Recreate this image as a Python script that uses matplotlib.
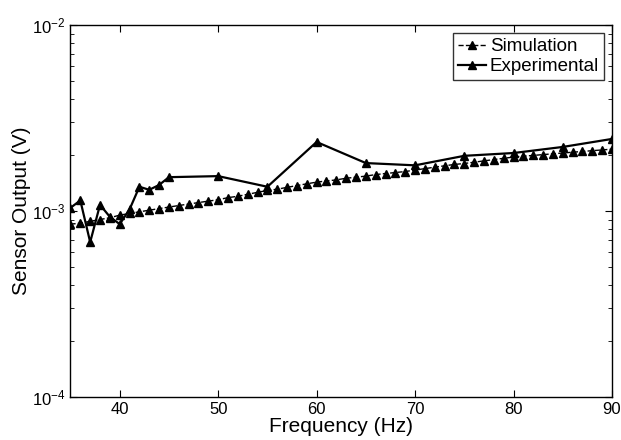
import numpy as np
import matplotlib
matplotlib.use("Agg")
import matplotlib.pyplot as plt
from matplotlib.ticker import LogLocator, NullFormatter

plt.rcParams['font.family'] = ['Liberation Sans', 'DejaVu Sans']
plt.rcParams['mathtext.default'] = 'regular'

# simulation: one point per Hz, 35..90 (values in volts)
sim_freq = list(range(35, 91))
sim_out = [0.85e-3, 0.86e-3, 0.88e-3, 0.90e-3, 0.92e-3, 0.95e-3, 0.97e-3, 0.99e-3, 1.01e-3, 1.03e-3,
           1.05e-3, 1.07e-3, 1.09e-3, 1.11e-3, 1.13e-3, 1.15e-3, 1.18e-3, 1.20e-3, 1.23e-3, 1.26e-3,
           1.29e-3, 1.31e-3, 1.34e-3, 1.37e-3, 1.40e-3, 1.43e-3, 1.45e-3, 1.47e-3, 1.50e-3, 1.52e-3,
           1.54e-3, 1.57e-3, 1.59e-3, 1.61e-3, 1.63e-3, 1.66e-3, 1.69e-3, 1.72e-3, 1.75e-3, 1.78e-3,
           1.80e-3, 1.83e-3, 1.86e-3, 1.89e-3, 1.92e-3, 1.95e-3, 1.97e-3, 1.99e-3, 2.01e-3, 2.03e-3,
           2.05e-3, 2.07e-3, 2.09e-3, 2.11e-3, 2.13e-3, 2.15e-3]

# experimental measurements
exp_freq = [35, 36, 37, 38, 39, 40, 41, 42, 43, 44, 45, 50, 55, 60, 65, 70, 75, 80, 85, 90]
exp_out = [1.04e-3, 1.14e-3, 0.68e-3, 1.08e-3, 0.93e-3, 0.85e-3, 1.02e-3, 1.35e-3, 1.30e-3, 1.38e-3,
           1.52e-3, 1.54e-3, 1.35e-3, 2.35e-3, 1.81e-3, 1.76e-3, 1.98e-3, 2.05e-3, 2.21e-3, 2.44e-3]

fig = plt.figure(figsize=(6.21, 4.40), dpi=100)
ax = fig.add_axes([0.1135, 0.0977, 0.872, 0.8455])

ax.semilogy(sim_freq, sim_out, "--", color="black", marker="^", markersize=5.5, linewidth=1, label="Simulation")
ax.semilogy(exp_freq, exp_out, "-", color="black", marker="^", markersize=5.5, linewidth=1.6, label="Experimental")

ax.set_xlim(35, 90)
ax.set_ylim(1e-4, 1e-2)
ax.set_xticks([40, 50, 60, 70, 80, 90])
ax.yaxis.set_major_locator(LogLocator(base=10, numticks=5))
ax.yaxis.set_minor_locator(LogLocator(base=10, subs=np.arange(2, 10), numticks=20))
ax.yaxis.set_minor_formatter(NullFormatter())
ax.tick_params(which="both", direction="in", top=True, right=True, labelsize=12)
ax.tick_params(which="major", length=5)
ax.tick_params(which="minor", length=3)
for s in ax.spines.values():
    s.set_linewidth(1)

ax.set_xlabel("Frequency (Hz)", fontsize=15, labelpad=0)
ax.set_ylabel("Sensor Output (V)", fontsize=15, labelpad=1)

leg = ax.legend(loc="upper right", fontsize=13.5, fancybox=False, edgecolor="black",
                handlelength=1.5, handletextpad=0.2, borderpad=0.25, labelspacing=0.15, borderaxespad=0.45)
leg.get_frame().set_linewidth(1)

plt.savefig("out.png", dpi=100)
